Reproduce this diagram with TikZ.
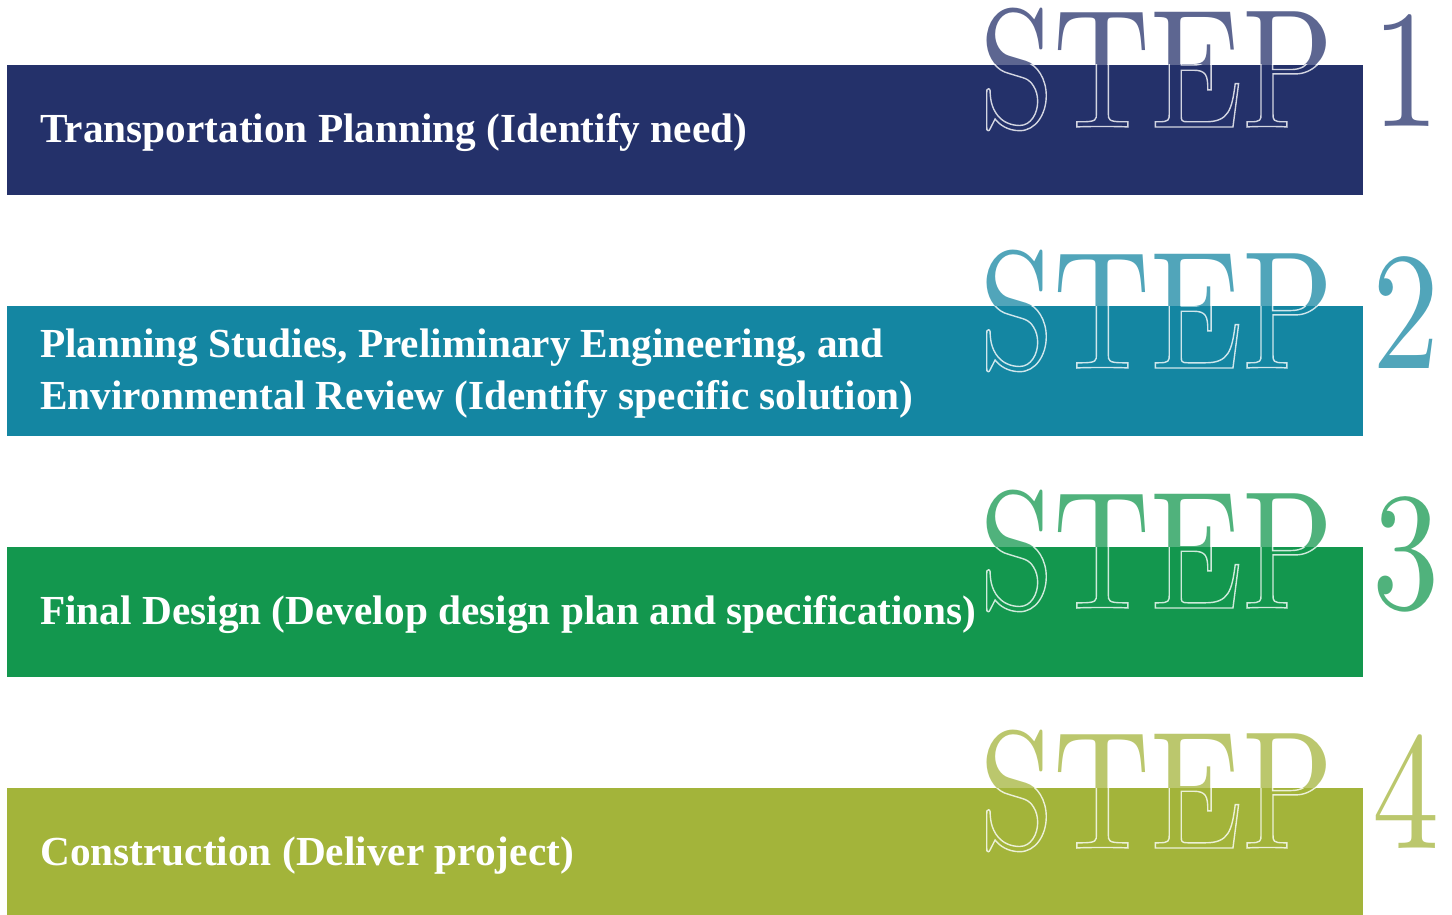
\documentclass[tikz,border=0pt]{standalone}
\usepackage{fontspec}
\usetikzlibrary{positioning}
\newfontfamily\barfont{Liberation Serif}
\newfontfamily\stepfont[FakeStretch=0.8]{lmroman10-regular.otf}
\definecolor{stepnavy}{HTML}{24316A}
\definecolor{stepteal}{HTML}{1486A2}
\definecolor{stepgreen}{HTML}{13974E}
\definecolor{stepolive}{HTML}{A3B43A}
\newcommand\outlined[1]{\special{pdf:literal direct 1 Tr 1.4 w}#1\special{pdf:literal direct 0 Tr}}
\newcommand\stepno[1]{STEP\hspace{0.23em}#1}
\begin{document}
\begin{tikzpicture}[x=1pt, y=-1pt,
    bar/.style={rectangle, inner sep=0, minimum width=1356pt, minimum height=129.5pt, anchor=north west},
    barlabel/.style={text=white, inner sep=0, align=left, yshift=-2.5pt, font=\barfont\bfseries\fontsize{41.3}{52}\selectfont},
    stepword/.style={inner sep=0, anchor=base west, font=\stepfont\fontsize{168}{168}\selectfont}]
  \useasboundingbox (0,0) rectangle (1452,915);
  % step 1
  \node[bar, fill=stepnavy] (bar1) at (7,65) {};
  \node[stepword, text=stepnavy, text opacity=0.74] (step1) at (979,127) {\stepno{1}};
  \node[barlabel, right=33pt of bar1.west] (label1) {Transportation Planning (Identify need)};
  \begin{scope}
    \clip (bar1.north west) rectangle (bar1.south east);
    \node[stepword, text=white, opacity=0.8] (outline1) at (979,127) {\outlined{\stepno{1}}};
  \end{scope}
  % step 2
  \node[bar, fill=stepteal] (bar2) at (7,306) {};
  \node[stepword, text=stepteal, text opacity=0.74] (step2) at (979,368) {\stepno{2}};
  \node[barlabel, right=33pt of bar2.west] (label2) {Planning Studies, Preliminary Engineering, and\\Environmental Review (Identify specific solution)};
  \begin{scope}
    \clip (bar2.north west) rectangle (bar2.south east);
    \node[stepword, text=white, opacity=0.8] (outline2) at (979,368) {\outlined{\stepno{2}}};
  \end{scope}
  % step 3
  \node[bar, fill=stepgreen] (bar3) at (7,547) {};
  \node[stepword, text=stepgreen, text opacity=0.74] (step3) at (979,608) {\stepno{3}};
  \node[barlabel, right=33pt of bar3.west] (label3) {Final Design (Develop design plan and specifications)};
  \begin{scope}
    \clip (bar3.north west) rectangle (bar3.south east);
    \node[stepword, text=white, opacity=0.8] (outline3) at (979,608) {\outlined{\stepno{3}}};
  \end{scope}
  % step 4
  \node[bar, fill=stepolive] (bar4) at (7,788) {};
  \node[stepword, text=stepolive, text opacity=0.74] (step4) at (979,848) {\stepno{4}};
  \node[barlabel, right=33pt of bar4.west] (label4) {Construction (Deliver project)};
  \begin{scope}
    \clip (bar4.north west) rectangle (bar4.south east);
    \node[stepword, text=white, opacity=0.8] (outline4) at (979,848) {\outlined{\stepno{4}}};
  \end{scope}
\end{tikzpicture}
\end{document}
